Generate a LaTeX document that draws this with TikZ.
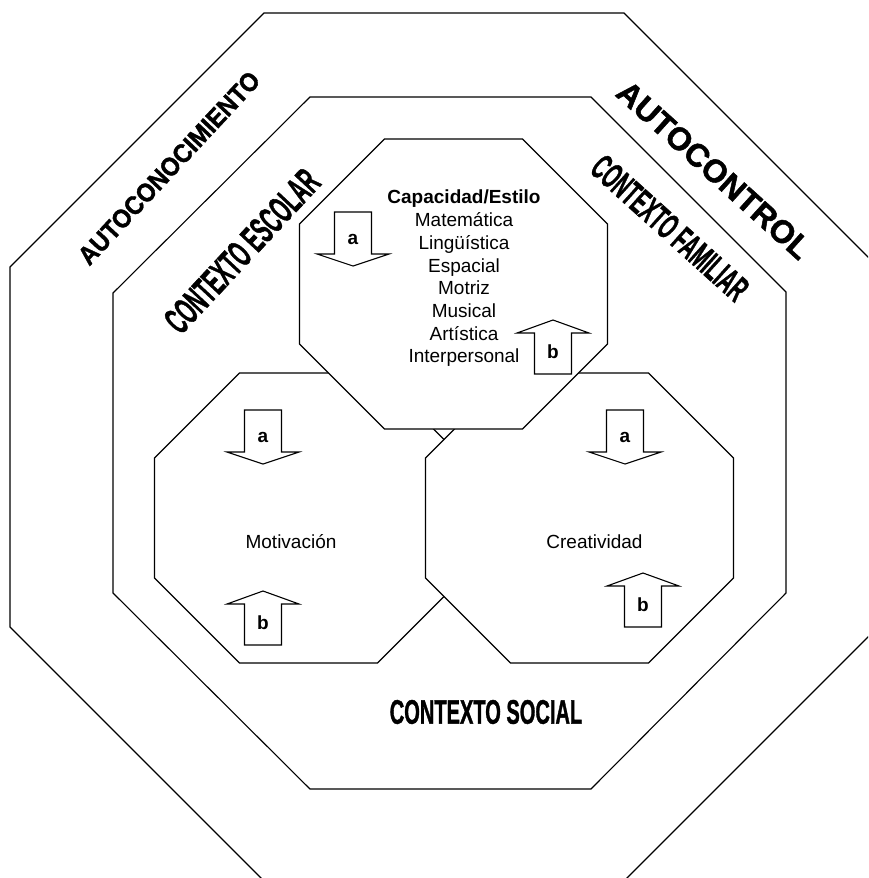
\documentclass[tikz,border=0pt]{standalone}
\usepackage{fontspec}
\setmainfont{Liberation Sans}
\newfontfamily\rotfont{Liberation Sans}[FakeBold=1.5]
\begin{document}
\begin{tikzpicture}[x=1pt,y=-1pt,line join=miter,line width=1.1pt]

	\tikzset{texto/.style={font=\fontsize{19}{22.7}\selectfont},
		rotulo/.style={inner sep=0pt,font=\rotfont\bfseries\fontsize{#1}{#1}\selectfont},
		pics/octa/.style={code={\draw[fill=white] (-69,-145)--(69,-145)--(154,-60)--(154,60)--(69,145)--(-69,145)--(-154,60)--(-154,-60)--cycle;}},
		pics/abajo/.style={code={\draw[fill=white] (-18.5,-27)--(18.5,-27)--(18.5,15)--(36,15)--(0,27)--(-36,15)--(-18.5,15)--cycle;
			\node[font=\bfseries\fontsize{19}{22}\selectfont] (-letra) at (0,0) {#1};}},
		pics/arriba/.style={code={\draw[fill=white] (-18.5,27)--(18.5,27)--(18.5,-14)--(36,-14)--(0,-27)--(-36,-14)--(-18.5,-14)--cycle;
			\node[font=\bfseries\fontsize{19}{22}\selectfont] (-letra) at (0,5) {#1};}}}

	\useasboundingbox (0,0) rectangle (868,878);
	\clip (0,0) rectangle (868,878);

	% octagonos exteriores
	\draw (264,13)--(624,13)--(878,267)--(878,627)--(624,881)--(264,881)--(10,627)--(10,267)--cycle;
	\draw (310,97)--(591,97)--(786,292)--(786,593)--(591,789)--(310,789)--(113,593)--(113,293)--cycle;

	% octagonos interiores
	\pic (motivacion-oct) at (308.5,518) {octa};
	\pic (creatividad-oct) at (579.5,518) {octa};
	\pic (capacidad-oct) at (453.5,284) {octa};

	\node[texto,align=center] (capacidad) at (464,278.5) {\textbf{Capacidad/Estilo}\\Matemática\\Lingüística\\Espacial\\Motriz\\Musical\\Artística\\Interpersonal};
	\node[texto] (motivacion) at (291,542) {Motivación};
	\node[texto] (creatividad) at (594.5,542) {Creatividad};

	% flechas a y b
	\pic (capa) at (353,239) {abajo=a};
	\pic (capb) at (553,347) {arriba=b};
	\pic (mota) at (263,437) {abajo=a};
	\pic (motb) at (263,618) {arriba=b};
	\pic (crea) at (625,437) {abajo=a};
	\pic (creb) at (643,600) {arriba=b};

	% rotulos
	\node[rotulo=26,rotate=47] (autoconocimiento) at (169,168) {\scalebox{0.91}[1]{AUTOCONOCIMIENTO}};
	\node[rotulo=32,rotate=-42] (autocontrol) at (714,170) {AUTOCONTROL};
	\node[rotulo=38,rotate=47] (escolar) at (242,251) {\scalebox{0.51}[1]{CONTEXTO ESCOLAR}};
	\node[rotulo=36,rotate=-42] (familiar) at (670,228) {\scalebox{0.52}[1]{CONTEXTO FAMILIAR}};
	\node[rotulo=34] (social) at (486,712) {\scalebox{0.59}[1]{CONTEXTO SOCIAL}};
\end{tikzpicture}
\end{document}
